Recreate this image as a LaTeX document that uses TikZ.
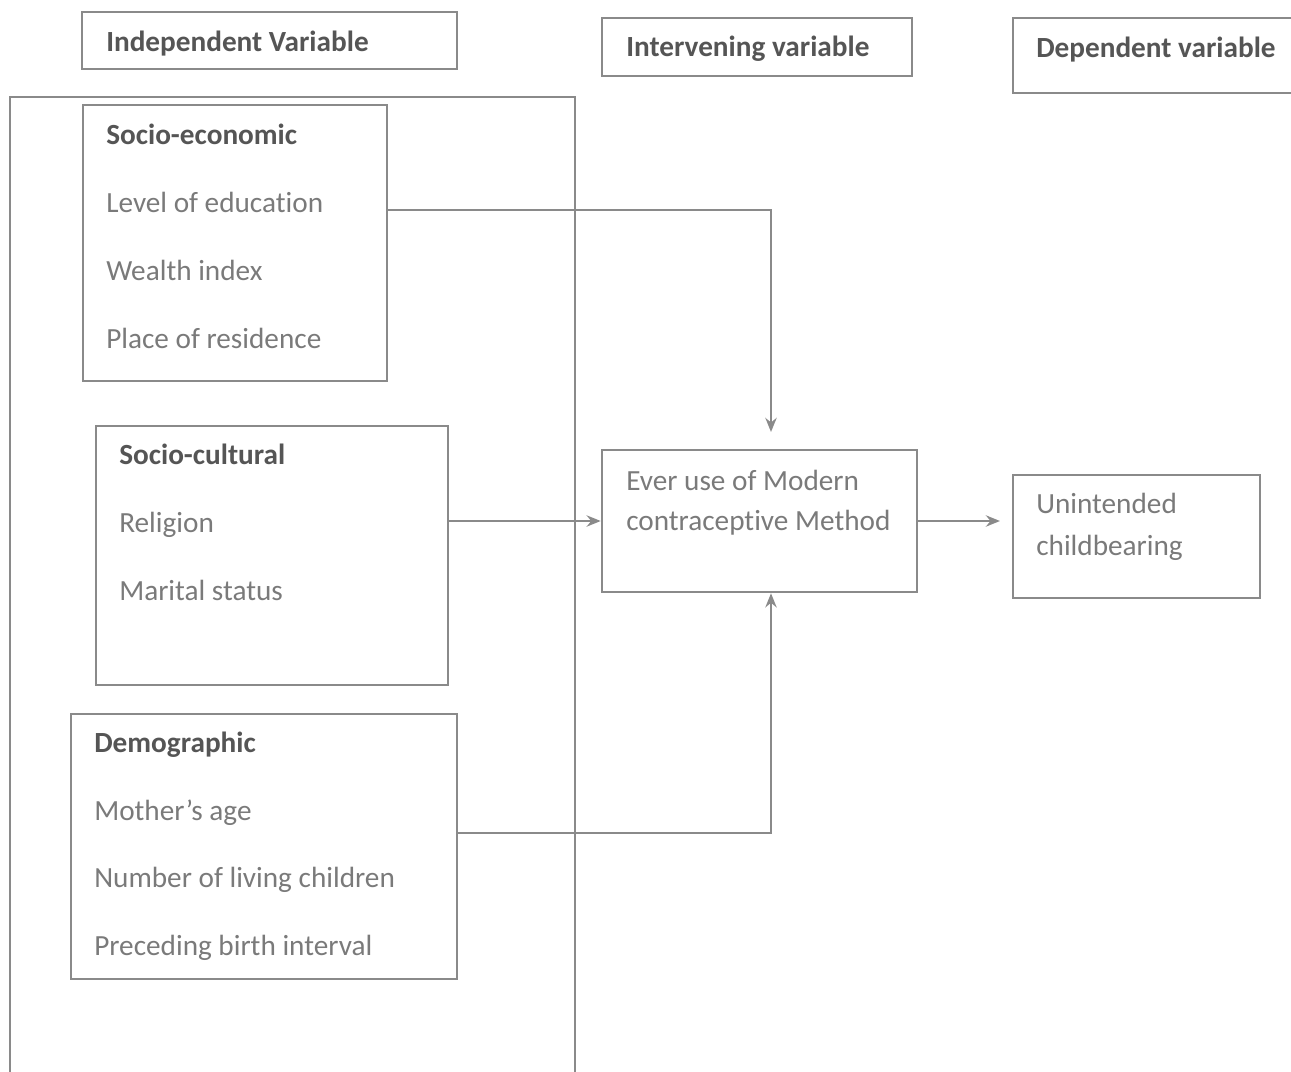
\documentclass[tikz,border=0pt]{standalone}
\usepackage{fontspec}
\setmainfont{Carlito}[RawFeature=-liga]
\usetikzlibrary{fit,arrows.meta}
\definecolor{framegray}{HTML}{8A8A8A}
\definecolor{itemgray}{HTML}{7A7A7A}
\definecolor{headgray}{HTML}{555555}
\newcommand{\boxfont}{\fontsize{20.8}{24}\selectfont}

\begin{document}
\begin{tikzpicture}[x=0.025cm,y=-0.025cm,line width=1.8pt,>={Stealth[length=10pt,width=8pt]},
  box/.style={draw=framegray,inner sep=0pt},
  item/.style={anchor=base west,inner sep=0pt,text=itemgray,font=\boxfont},
  head/.style={item,text=headgray,font=\boxfont\bfseries},
  conn/.style={draw=framegray,->}]
\useasboundingbox (0,0) rectangle (1291,1072);

% column headings
\node[box,fit={(82,12) (457,69)}] (indep) {};
\node[head] (indep-t) at (105,51) {Independent Variable};
\node[box,fit={(602,18) (912,76)}] (interv) {};
\node[head] (interv-t) at (625,56) {Intervening variable};
\node[box,fit={(1013,18) (1300,93)}] (depend) {};
\node[head] (depend-t) at (1035,57) {Dependent variable};

% frame round the independent variables
\draw[framegray] (10,1080) |- (575,97) -- (575,1080);

% socio-economic
\node[box,fit={(83,105) (387,381)}] (seco) {};
\node[head] (seco-t) at (105,144) {Socio-economic};
\node[item] (seco-a) at (105,212) {Level of education};
\node[item] (seco-b) at (105,280) {Wealth index};
\node[item] (seco-c) at (105,348) {Place of residence};

% socio-cultural
\node[box,fit={(96,426) (448,685)}] (scul) {};
\node[head] (scul-t) at (118,464) {Socio-cultural};
\node[item] (scul-a) at (118,532) {Religion};
\node[item] (scul-b) at (118,600) {Marital status};

% demographic
\node[box,fit={(71,714) (457,979)}] (demo) {};
\node[head] (demo-t) at (93,752) {Demographic};
\node[item] (demo-a) at (93,820) {Mother's age};
\node[item] (demo-b) at (93,887) {Number of living children};
\node[item] (demo-c) at (93,955) {Preceding birth interval};

% intervening and outcome
\node[box,fit={(602,450) (917,592)}] (ever) {};
\node[item] (ever-a) at (625,490) {Ever use of Modern};
\node[item] (ever-b) at (625,530) {contraceptive Method};
\node[box,fit={(1013,475) (1260,598)}] (unint) {};
\node[item] (unint-a) at (1035,513) {Unintended};
\node[item] (unint-b) at (1035,555) {childbearing};

% connectors
\coordinate (ever-in) at (771,432);
\coordinate (unint-in) at (1000,521);
\draw[conn] (seco.east |- 0,210) -| (ever-in);
\draw[conn] (scul.east |- ever.west) -- (ever.west);
\draw[conn] (demo.east |- 0,833) -| (ever.south -| ever-in);
\draw[conn] (ever.east) -- (unint-in);
\end{tikzpicture}
\end{document}
